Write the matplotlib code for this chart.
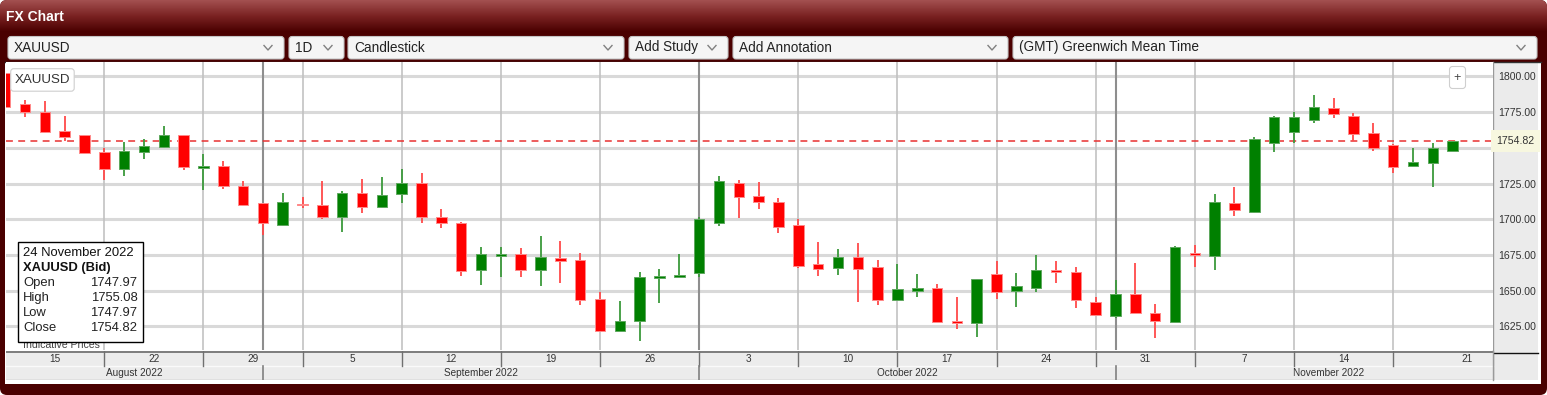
import numpy as np
import pandas as pd
import matplotlib
matplotlib.use("Agg")
import matplotlib.pyplot as plt
from matplotlib.patches import Rectangle, FancyBboxPatch
from matplotlib.colors import LinearSegmentedColormap

plt.rcParams['font.family'] = ['Liberation Sans', 'DejaVu Sans']

# ---------------- data ----------------
symbol = "XAUUSD"
start_date = "2022-08-15"
end_date = "2022-11-24"
dates = pd.bdate_range(start_date, end_date)

opens = [1802.2, 1780.5, 1775.4, 1762.0, 1759.0, 1747.1, 1735.5, 1747.4, 1750.4, 1759.0,
         1735.7, 1737.6, 1723.6, 1711.2, 1696.0, 1711.0, 1710.0, 1701.9, 1718.2, 1708.4,
         1717.5, 1725.2, 1701.9, 1697.6, 1664.5, 1674.3, 1675.7, 1664.5, 1673.1, 1671.5,
         1643.9, 1622.0, 1629.0, 1659.1, 1659.9, 1662.6, 1697.6, 1725.2, 1716.5, 1712.3,
         1696.0, 1668.7, 1666.1, 1673.8, 1666.8, 1643.5, 1649.8, 1652.1, 1629.0, 1627.6,
         1661.5, 1649.8, 1652.1, 1664.5, 1662.9, 1642.3, 1632.3, 1647.7, 1634.2, 1628.3,
         1676.6, 1674.3, 1711.6, 1705.3, 1753.7, 1761.4, 1769.3, 1777.7, 1772.3, 1760.7,
         1752.0, 1737.6, 1739.2, 1747.97]
highs = [1806.0, 1783.5, 1782.8, 1772.3, 1759.3, 1749.7, 1754.4, 1756.0, 1765.3, 1759.3,
         1745.5, 1740.8, 1726.8, 1711.5, 1718.2, 1715.8, 1726.8, 1719.8, 1728.2, 1729.8,
         1735.2, 1732.2, 1707.0, 1698.3, 1680.4, 1680.4, 1679.7, 1688.3, 1685.0, 1676.2,
         1649.3, 1642.8, 1663.3, 1665.2, 1675.7, 1701.4, 1730.3, 1727.5, 1725.9, 1715.1,
         1700.0, 1684.3, 1679.0, 1683.2, 1671.5, 1668.7, 1661.7, 1654.5, 1645.8, 1658.2,
         1670.8, 1662.6, 1675.0, 1670.8, 1666.8, 1645.4, 1657.5, 1669.6, 1640.7, 1681.5,
         1682.0, 1717.5, 1722.8, 1757.4, 1772.3, 1775.4, 1787.0, 1784.7, 1774.7, 1767.7,
         1752.7, 1749.7, 1753.2, 1755.08]
lows = [1773.5, 1771.9, 1760.2, 1754.8, 1745.5, 1727.5, 1730.3, 1742.2, 1750.0, 1734.5,
        1720.5, 1721.2, 1709.5, 1689.0, 1695.3, 1708.1, 1700.0, 1691.3, 1704.2, 1708.0,
        1711.6, 1697.2, 1693.7, 1660.3, 1654.0, 1659.8, 1659.8, 1653.3, 1655.6, 1640.0,
        1621.3, 1621.8, 1615.0, 1641.6, 1659.9, 1659.8, 1695.3, 1700.7, 1707.0, 1690.6,
        1666.1, 1660.3, 1661.0, 1642.3, 1640.0, 1643.0, 1645.8, 1627.9, 1623.0, 1617.3,
        1644.2, 1638.4, 1649.3, 1655.2, 1637.6, 1632.3, 1630.7, 1634.3, 1616.6, 1628.0,
        1666.8, 1664.5, 1702.3, 1704.2, 1747.4, 1753.7, 1767.2, 1770.7, 1754.8, 1748.1,
        1732.2, 1736.8, 1722.8, 1747.97]
closes = [1778.9, 1774.9, 1761.4, 1757.4, 1746.2, 1735.5, 1748.1, 1751.3, 1759.0, 1736.8,
          1737.6, 1723.6, 1710.0, 1697.2, 1712.3, 1709.8, 1701.9, 1718.2, 1708.4, 1717.2,
          1725.2, 1701.9, 1697.2, 1663.8, 1675.7, 1675.7, 1664.5, 1673.8, 1671.0, 1643.5,
          1622.0, 1628.8, 1659.8, 1660.3, 1660.3, 1700.0, 1726.8, 1715.8, 1711.9, 1694.8,
          1667.5, 1665.2, 1673.4, 1665.2, 1643.5, 1651.2, 1651.9, 1628.3, 1627.6, 1658.2,
          1648.9, 1653.3, 1664.5, 1662.9, 1643.5, 1633.0, 1647.7, 1634.6, 1629.0, 1680.8,
          1675.0, 1712.3, 1706.5, 1756.0, 1771.4, 1771.4, 1778.4, 1773.5, 1760.0, 1749.7,
          1736.8, 1739.9, 1749.7, 1754.82]
price_ticks = [1625, 1650, 1675, 1700, 1725, 1750, 1775, 1800]
toolbar_items = ["XAUUSD", "1D", "Candlestick", "Add Study", "Add Annotation",
                 "(GMT) Greenwich Mean Time"]
tooltip_fields = ["Open", "High", "Low", "Close"]

# ---------------- layout (pixels) ----------------
W, H = 1547, 395
PX0, PX1 = 6, 1493          # plot area x
PY0, PY1 = 62, 350          # plot area y
A_PX, B_PX = 5.16, 19.828   # pixel of index 0, pixels per trading day
Y_TOP, Y_BOT = 1810.15, 1608.47

RED, GREEN = '#ff0000', '#008000'
FRAME = '#4a0000'

fig = plt.figure(figsize=(W / 100, H / 100), dpi=100)
fig.patch.set_facecolor('white')

def pix_axes(x0, y0, x1, y1, **kw):
    return fig.add_axes([x0 / W, 1 - y1 / H, (x1 - x0) / W, (y1 - y0) / H], **kw)

# ---------- background / frame ----------
bg = fig.add_axes([0, 0, 1, 1])
bg.axis('off')
frame = FancyBboxPatch((0, 0), W, H, boxstyle="round,pad=0,rounding_size=7",
                       fc=FRAME, ec='none', zorder=0)
bg.add_patch(frame)
grad = np.linspace(0, 1, 64)[:, None]
cmap = LinearSegmentedColormap.from_list('g', ['#a35050', '#7a2222', FRAME])
im = bg.imshow(grad, extent=(0, W, 32, 0), cmap=cmap, aspect='auto', zorder=1,
               interpolation='bilinear')
im.set_clip_path(frame)
bg.set_xlim(0, W)
bg.set_ylim(H, 0)
bg.text(6, 17, "FX Chart", color='white', fontsize=10, fontweight='bold',
        va='center', ha='left', zorder=2)

# toolbar boxes
box_edges = [(8, 284), (289, 344), (348, 624), (629, 728), (733, 1008), (1013, 1537)]
for label, (x0, x1) in zip(toolbar_items, box_edges):
    bg.add_patch(FancyBboxPatch((x0, 36.5), x1 - x0, 22.5,
                                boxstyle="round,pad=0,rounding_size=3",
                                fc='#f5f5f5', ec='#c4c4c4', lw=0.8, zorder=2))
    bg.text(x0 + 6, 47.5, label, fontsize=9.8, color='#222222', va='center',
            ha='left', zorder=3)
    cx = x1 - 16
    bg.plot([cx - 4, cx, cx + 4], [45.5, 50, 45.5], color='#808080', lw=1.0, zorder=3)

# chart white area
bg.add_patch(Rectangle((5, 61.5), 1536, 322.5, fc='white', ec='none', zorder=2))
bg.plot([5, 1541], [61.8, 61.8], color='#333333', lw=1.0, zorder=3)
# right price panel
bg.add_patch(Rectangle((PX1, PY0), 1538 - PX1, 380 - PY0, fc='#ebebeb', ec='none', zorder=2))
bg.plot([PX1, PX1], [PY0, 380], color='#9a9a9a', lw=1.0, zorder=3)
bg.plot([PX1, 1538], [353, 353], color='#111111', lw=1.0, zorder=3)

# ---------- main candlestick axes ----------
ax = pix_axes(PX0, PY0, PX1, PY1)
ax.set_facecolor('white')
x = np.arange(len(dates))
o = np.array(opens); h = np.array(highs); l = np.array(lows); c = np.array(closes)
up = c >= o
body_col = np.where(up, GREEN, RED)
edge_col = np.where(up, '#5fa85f', '#ff8a8a')
wick_col = np.where(up, '#3c9a3c', '#ff4a4a')

ax.set_xlim((PX0 - A_PX) / B_PX, (PX1 - A_PX) / B_PX)
ax.set_ylim(Y_BOT, Y_TOP)

# grid
for p in price_ticks:
    ax.axhline(p, color='#d9d9d9', lw=2.2, zorder=1)
mondays = np.where(dates.weekday == 0)[0]
month_starts = np.where(dates.month != np.roll(dates.month, 1))[0]
month_starts = month_starts[month_starts > 0]
for m in mondays:
    if m not in month_starts:
        ax.axvline(m, color='#c2c2c2', lw=1.2, zorder=1)
for m in month_starts:
    ax.axvline(m, color='#8e8e8e', lw=1.5, zorder=1)

ax.vlines(x, l, h, colors=wick_col, lw=1.3, zorder=3)
ax.bar(x, np.maximum(np.abs(c - o), 1.0), bottom=np.minimum(o, c), width=0.53,
       color=body_col, edgecolor=edge_col, linewidth=0.7, zorder=4)

last_close = closes[-1]
ax.axhline(last_close, color='#e83030', lw=1.1, ls=(0, (4.5, 3.5)), zorder=2)

ax.yaxis.tick_right()
ax.set_yticks(price_ticks)
ax.set_yticklabels([f"{p:.2f}" if abs(p - last_close) > 8 else "" for p in price_ticks])
ax.tick_params(axis='y', length=0, pad=3.5, labelsize=7.6, labelcolor='#333333')
ax.set_xticks([])
for s in ax.spines.values():
    s.set_visible(False)
ax.text(1.0, last_close, f"{last_close:.2f}", transform=ax.get_yaxis_transform(),
        ha='left', va='center', fontsize=7.6, color='#333333', clip_on=False, zorder=6,
        bbox=dict(boxstyle='square,pad=0.55', fc='#f7f7df', ec='none'))
# nudge text right so box starts at panel edge
ax.texts[-1].set_x(1.0 + 3.5 / (PX1 - PX0))

# ---------- date axis ----------
dax = pix_axes(PX0, 351, 1541, 380)
dax.axis('off')
xl0 = (PX0 - A_PX) / B_PX
xl1 = (1541 - A_PX) / B_PX
xr = (PX1 - A_PX) / B_PX
dax.set_xlim(xl0, xl1)
dax.set_ylim(2, 0)
dax.add_patch(Rectangle((xl0, 0), xr - xl0, 2, fc='#ececec', ec='none'))
dax.plot([xl0, xr], [0.08, 0.08], color='#6a6a6a', lw=1.2)
dax.plot([xl0, xr], [1.04, 1.04], color='#fafafa', lw=1.0)
dax.plot([xl0, xr], [1.97, 1.97], color='#b0b0b0', lw=1.0)
dax.plot([xr, xr], [0, 2], color='#9a9a9a', lw=1.0)
week_starts = list(mondays)
for k, m in enumerate(week_starts):
    end = week_starts[k + 1] if k + 1 < len(week_starts) else xl1
    start = max(m, xl0)
    if m > 0:
        dax.plot([m, m], [0, 1], color='#707070', lw=1.0)
    dax.text((start + end) / 2, 0.55, str(dates[m].day), ha='center', va='center',
             fontsize=7.2, color='#333333')
all_month_starts = [0] + list(month_starts)
for k, m in enumerate(all_month_starts):
    end = all_month_starts[k + 1] if k + 1 < len(all_month_starts) else xl1
    start = max(m, xl0)
    if m > 0:
        dax.plot([m, m], [1, 2], color='#808080', lw=1.2)
    dax.text((start + end) / 2, 1.5, dates[m].strftime('%B %Y'), ha='center',
             va='center', fontsize=7.2, color='#333333')

# ---------- overlay: tooltip, labels ----------
ov = fig.add_axes([0, 0, 1, 1])
ov.patch.set_alpha(0)
ov.axis('off')
ov.set_xlim(0, W)
ov.set_ylim(H, 0)
ov.text(23, 344.5, "Indicative Prices", fontsize=7.6, color='#444444', va='center',
        ha='left', zorder=1)
ov.add_patch(Rectangle((17.5, 241.5), 125, 100, fc='white', ec='black', lw=1.0, zorder=2))
ov.text(23, 253, dates[-1].strftime('%d %B %Y').lstrip('0'), fontsize=9.4,
        color='#111111', va='center', ha='left', zorder=3)
ov.text(23, 268.3, f"{symbol} (Bid)", fontsize=9.4, fontweight='bold',
        color='#111111', va='center', ha='left', zorder=3)
for j, (name, val) in enumerate(zip(tooltip_fields, [opens[-1], highs[-1], lows[-1], closes[-1]])):
    yy = 283.3 + 15 * j
    ov.text(23, yy, name, fontsize=9.4, color='#222222', va='center', ha='left', zorder=3)
    ov.text(137.5, yy, f"{val:.2f}", fontsize=9.4, color='#222222', va='center',
            ha='right', zorder=3)

ov.add_patch(FancyBboxPatch((10.7, 68.7), 63.5, 22.5, boxstyle="round,pad=0,rounding_size=3",
                            fc='white', ec='#cfcfcf', lw=0.8, zorder=2))
ov.text(42.5, 80, symbol, fontsize=9.6, color='#333333', ha='center', va='center', zorder=3)
ov.add_patch(FancyBboxPatch((1449.5, 66.5), 16, 22, boxstyle="round,pad=0,rounding_size=3",
                            fc='white', ec='#cfcfcf', lw=0.8, zorder=2))
ov.text(1457.5, 77.5, "+", fontsize=9, color='#444444', ha='center', va='center', zorder=3)

fig.savefig("out.png", dpi=100)
